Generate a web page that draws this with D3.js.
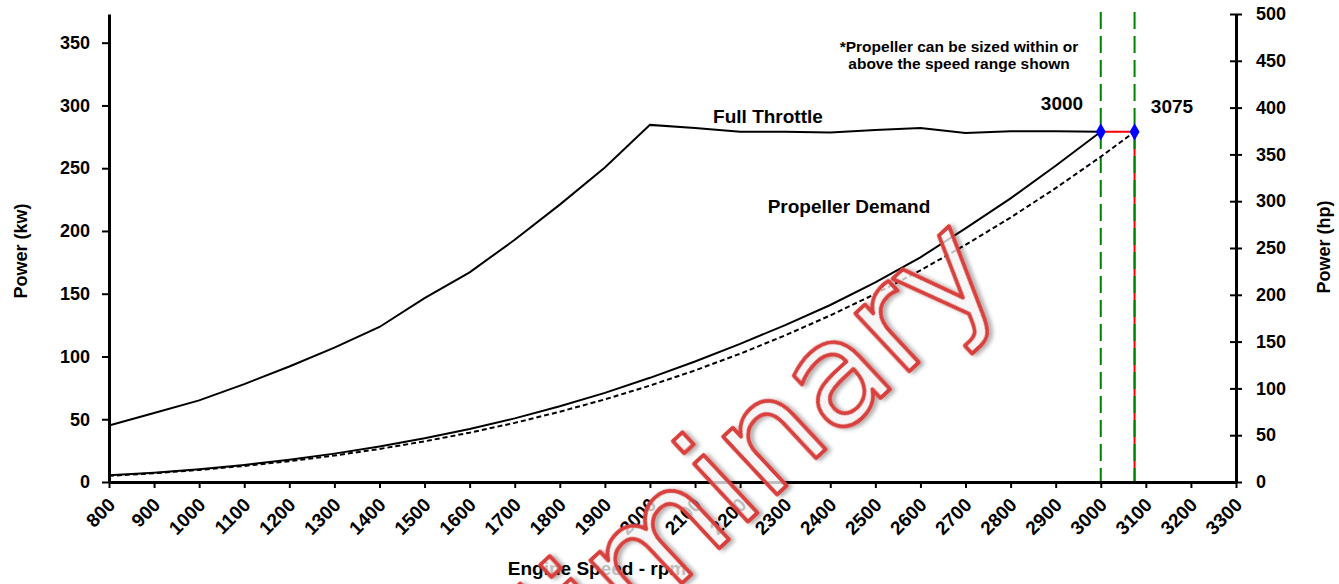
<!DOCTYPE html>
<html>
<head>
<meta charset="utf-8">
<script src="https://cdn.jsdelivr.net/npm/d3@7"></script>
<style>
  html, body { margin: 0; padding: 0; background: #fff; }
  svg { display: block; font-family: "Liberation Sans", Arial, sans-serif; }
</style>
</head>
<body>
<svg id="chart" width="1339" height="584"></svg>
<script>
// ---------- data ----------
const rpm = [800, 900, 1000, 1100, 1200, 1300, 1400, 1500, 1600, 1700, 1800, 1900,
             2000, 2100, 2200, 2300, 2400, 2500, 2600, 2700, 2800, 2900, 3000];
const fullThrottleKw = [45, 55, 65, 78, 92, 107, 123.5, 146.5, 167, 193, 221, 250.5,
                        284.5, 282, 279, 279, 278.5, 280.5, 282, 278, 279.5, 279.5, 279];
const propDemandKw = [5.3, 7.4, 10.2, 13.6, 17.7, 22.6, 28.3, 34.8, 42.2, 50.7, 60.3, 71,
                      83, 96, 110, 125, 141, 159, 179, 202, 226, 252, 279];
const propRpm2 = [800, 900, 1000, 1100, 1200, 1300, 1400, 1500, 1600, 1700, 1800, 1900,
                  2000, 2100, 2200, 2300, 2400, 2500, 2600, 2700, 2800, 2900, 3000, 3075];
const propDemand2Kw = [4.9, 7.0, 9.6, 12.8, 16.6, 21.1, 26.3, 32.4, 39.3, 47.1, 56.0, 65.8,
                       76.8, 88.9, 102.2, 116.8, 132.7, 149.9, 168.6, 188.9, 210.7, 234.1, 259.1, 279];
const ratedRpm = [3000, 3075];
const ratedKw = [279, 279];
const xTicks = [800, 900, 1000, 1100, 1200, 1300, 1400, 1500, 1600, 1700, 1800, 1900, 2000,
                2100, 2200, 2300, 2400, 2500, 2600, 2700, 2800, 2900, 3000, 3100, 3200, 3300];
const kwTicks = [0, 50, 100, 150, 200, 250, 300, 350];
const hpTicks = [0, 50, 100, 150, 200, 250, 300, 350, 400, 450, 500];
const hpMax = 500;
const kwPerHp = 0.7457;

// ---------- layout ----------
const svg = d3.select("#chart");
const L = 109, R = 1236, T = 14, B = 482;
const x = d3.scaleLinear().domain([800, 3300]).range([L, R]);
const yKw = d3.scaleLinear().domain([0, hpMax * kwPerHp]).range([B, T]);
const yHp = d3.scaleLinear().domain([0, hpMax]).range([B, T]);

// ---------- guide lines (green dashed + red) ----------
const g = svg.append("g");
g.append("line")
  .attr("x1", x(ratedRpm[0])).attr("x2", x(ratedRpm[1]))
  .attr("y1", yKw(ratedKw[0])).attr("y2", yKw(ratedKw[1]))
  .attr("stroke", "#ff0000").attr("stroke-width", 2);
g.append("line")
  .attr("x1", x(ratedRpm[1])).attr("x2", x(ratedRpm[1]))
  .attr("y1", yKw(ratedKw[1])).attr("y2", B)
  .attr("stroke", "#ff0000").attr("stroke-width", 2);
ratedRpm.forEach(r => {
  g.append("line")
    .attr("x1", x(r)).attr("x2", x(r))
    .attr("y1", T - 2).attr("y2", B)
    .attr("stroke", "#008000").attr("stroke-width", 2)
    .attr("stroke-dasharray", "17,7");
});

// ---------- curves ----------
const line = d3.line();
svg.append("path")
  .attr("d", line(rpm.map((r, i) => [x(r), yKw(fullThrottleKw[i])])))
  .attr("fill", "none").attr("stroke", "#000").attr("stroke-width", 2);
svg.append("path")
  .attr("d", line(rpm.map((r, i) => [x(r), yKw(propDemandKw[i])])))
  .attr("fill", "none").attr("stroke", "#000").attr("stroke-width", 2);
svg.append("path")
  .attr("d", line(propRpm2.map((r, i) => [x(r), yKw(propDemand2Kw[i])])))
  .attr("fill", "none").attr("stroke", "#000").attr("stroke-width", 2)
  .attr("stroke-dasharray", "5,3");

svg.selectAll("path.pt").data(ratedRpm).join("path")
  .attr("class", "pt")
  .attr("d", d3.symbol(d3.symbolDiamond, 85)())
  .attr("transform", (d, i) => `translate(${x(d)},${yKw(ratedKw[i])})`)
  .attr("fill", "#0000ff");

// ---------- axes ----------
const axL = svg.append("g").attr("transform", `translate(${L},0)`)
  .call(d3.axisLeft(yKw).tickValues(kwTicks).tickSize(7).tickSizeOuter(0).tickPadding(12));
const axR = svg.append("g").attr("transform", `translate(${R},0)`)
  .call(d3.axisRight(yHp).tickValues(hpTicks).tickSize(6).tickSizeOuter(0).tickPadding(14));
axR.selectAll(".tick line").attr("x1", -6);
const axB = svg.append("g").attr("transform", `translate(0,${B})`)
  .call(d3.axisBottom(x).tickValues(xTicks).tickSize(6).tickSizeOuter(0).tickFormat(d3.format("d")));

[axL, axR, axB].forEach(a => {
  a.select(".domain").attr("stroke", "#000").attr("stroke-width", 3);
  a.selectAll(".tick line").attr("stroke", "#000").attr("stroke-width", 2);
  a.selectAll("text").attr("fill", "#000").attr("font-size", 18).attr("font-weight", "bold")
    .attr("font-family", "Liberation Sans, Arial, sans-serif");
});
axB.selectAll(".tick text")
  .attr("font-size", 19)
  .attr("text-anchor", "end").attr("dy", null).attr("y", null)
  .attr("transform", "translate(7,24) rotate(-45)");

// ---------- text ----------
const txt = (s, px, py, size, anchor, extra) => {
  const t = svg.append("text").attr("x", px).attr("y", py)
    .attr("font-size", size).attr("font-weight", "bold").attr("fill", "#000")
    .attr("text-anchor", anchor || "middle").text(s);
  if (extra) extra(t);
  return t;
};
txt("Full Throttle", 768, 123, 19);
txt("Propeller Demand", 849, 213, 19);
txt("*Propeller can be sized within or", 959, 52, 15.5);
txt("above the speed range shown", 959, 69, 15.5);
txt("3000", 1062, 110, 19);
txt("3075", 1172, 113, 19);
txt("Power (kw)", 0, 0, 18, "middle", t => t.attr("transform", "translate(27,251) rotate(-90)"));
txt("Power (hp)", 0, 0, 18, "middle", t => t.attr("transform", "translate(1330,247) rotate(-90)"));
txt("Engine Speed - rpm", 597, 575, 19);

// ---------- watermark ----------
const defs = svg.append("defs");
const f = defs.append("filter").attr("id", "sh").attr("x", "-10%").attr("y", "-10%")
  .attr("width", "120%").attr("height", "120%");
f.append("feDropShadow").attr("dx", 2).attr("dy", 3).attr("stdDeviation", 2)
  .attr("flood-color", "#000").attr("flood-opacity", 0.35);
svg.append("text")
  .attr("transform", "translate(1006,281) rotate(-43)")
  .attr("text-anchor", "end")
  .attr("font-family", "DejaVu Sans, Verdana, sans-serif")
  .attr("font-size", 145)
  .attr("fill", "#fff").attr("fill-opacity", 0.7)
  .attr("stroke", "#d8413c").attr("stroke-width", 4).attr("stroke-linejoin", "round")
  .attr("filter", "url(#sh)")
  .text("Preliminary");
</script>
</body>
</html>
